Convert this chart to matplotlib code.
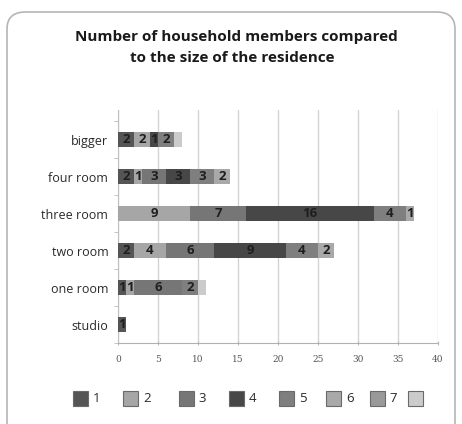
import matplotlib
matplotlib.use("Agg")
import matplotlib.pyplot as plt
from matplotlib.patches import FancyBboxPatch, Rectangle
import numpy as np

categories = ["studio", "one room", "two room", "three room", "four room", "bigger"]
series_labels = ["1", "2", "3", "4", "5", "6", "7", ""]
s1 = [1, 1, 2, 0, 2, 2]
s2 = [0, 1, 4, 9, 1, 2]
s3 = [0, 6, 6, 7, 3, 0]
s4 = [0, 0, 9, 16, 3, 1]
s5 = [0, 2, 4, 4, 3, 2]
s6 = [0, 0, 2, 1, 2, 0]
s7 = [0, 0, 0, 0, 0, 0]
s8 = [0, 1, 0, 0, 0, 1]
series = [s1, s2, s3, s4, s5, s6, s7, s8]
colors = ["#555555", "#a6a6a6", "#767676", "#474747", "#7f7f7f", "#a9a9a9", "#999999", "#cbcbcb"]
show_value = [True, True, True, True, True, True, True, False]
xticks = [0, 5, 10, 15, 20, 25, 30, 35, 40]

W, H = 462, 424
fig = plt.figure(figsize=(W / 100, H / 100), dpi=100)
fig.patch.set_facecolor("white")

# rounded frame
frame = FancyBboxPatch((7 / W, -20 / H), (455 - 7) / W, (H - 12 + 20) / H,
                       boxstyle="round,pad=0,rounding_size=0.04",
                       transform=fig.transFigure, fill=False,
                       edgecolor="#b5b5b5", linewidth=1.2)
fig.add_artist(frame)

fig.text(236 / W, 1 - 37 / H, "Number of household members compared",
         ha="center", va="center", fontsize=11, fontweight="bold",
         family="Open Sans", color="#1a1a1a")
fig.text(232 / W, 1 - 58 / H, "to the size of the residence",
         ha="center", va="center", fontsize=11, fontweight="bold",
         family="Open Sans", color="#1a1a1a")

ax = fig.add_axes([118 / W, 1 - 343 / H, 320 / W, (343 - 110) / H])
y = np.arange(len(categories))
left = np.zeros(len(categories))
for vals, c, lab, show in zip(series, colors, series_labels, show_value):
    vals = np.array(vals, dtype=float)
    ax.barh(y, vals, left=left, height=0.41, color=c, edgecolor="none", zorder=3)
    if show:
        for yi, (l, v) in enumerate(zip(left, vals)):
            if v > 0:
                ax.text(l + v / 2, yi, f"{int(v)}", ha="center", va="center",
                        fontsize=9.5, fontweight="bold", family="Open Sans",
                        color="#1e1e1e", zorder=4)
    left += vals

ax.set_xlim(0, 40)
ax.set_ylim(-0.5, 5.81)
ax.set_xticks(xticks)
ax.set_xticklabels([str(t) for t in xticks], family="DejaVu Serif", fontsize=6.5, color="#555555")
ax.set_yticks(y)
ax.set_yticklabels(categories, family="Open Sans", fontsize=9, color="#2a2a2a")
ax.set_yticks(np.arange(-0.5, len(categories), 1.0), minor=True)
ax.tick_params(axis="y", which="major", length=0, pad=7)
ax.tick_params(axis="y", which="minor", length=3, color="#bbbbbb")
ax.tick_params(axis="x", length=3, color="#bbbbbb", pad=7, direction="inout")
ax.grid(axis="x", color="#d4d4d4", linewidth=1.0, zorder=0)
for s in ["top", "right"]:
    ax.spines[s].set_visible(False)
ax.spines["left"].set_color("#c0c0c0")
ax.spines["bottom"].set_color("#b0b0b0")
ax.set_facecolor("white")

# legend
sw_x = [73, 123, 179, 229, 279, 326, 370, 408]
lab_x = [97, 147, 202, 252, 303, 350, 393, None]
ly = 398
for c, lab, sx, lx in zip(colors, series_labels, sw_x, lab_x):
    fig.add_artist(Rectangle((sx / W, 1 - (ly + 7.5) / H), 15 / W, 15 / H,
                             transform=fig.transFigure, facecolor=c,
                             edgecolor="#6a6a6a", linewidth=0.8))
    if lab and lx is not None:
        fig.text(lx / W, 1 - ly / H, lab, ha="center", va="center",
                 fontsize=9.5, family="Open Sans", color="#2a2a2a")

fig.savefig("out.png", dpi=100, facecolor="white")
